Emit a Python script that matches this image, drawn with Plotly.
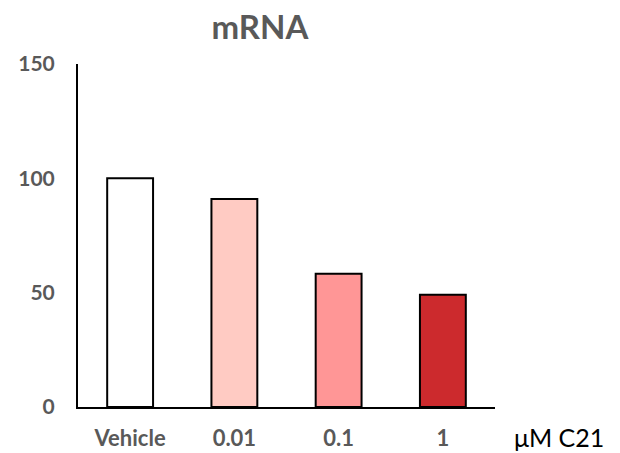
import plotly.graph_objects as go

categories = ["Vehicle", "0.01", "0.1", "1"]
values = [100, 91, 58.3, 49.1]
bar_colors = ["#FFFFFF", "#FFCBC3", "#FF9696", "#CC2A2D"]
y_ticks = [0, 50, 100, 150]

fig = go.Figure()
fig.add_trace(go.Bar(
    x=categories, y=values,
    marker=dict(color=bar_colors, line=dict(color="black", width=2)),
    width=0.44,
))

gray = "#595959"
fam = "Lato, Open Sans, sans-serif"
fig.update_layout(
    width=620, height=453,
    margin=dict(l=78, r=125, t=64, b=46),
    plot_bgcolor="white", paper_bgcolor="white",
    showlegend=False,
    title=dict(text="<b>mRNA</b>", x=260/620, xanchor="center", y=1-27/453, yanchor="middle",
               font=dict(family=fam, size=33, color=gray)),
    font=dict(family=fam),
)
fig.update_xaxes(
    range=[-0.5, 3.5], showline=True, linecolor="black", linewidth=2,
    ticks="", tickfont=dict(size=22, color=gray, weight="bold"),
    ticklabelstandoff=11, showgrid=False, zeroline=False, automargin=False,
)
fig.update_yaxes(
    range=[0, 150], tickvals=y_ticks, showline=True, linecolor="black", linewidth=2,
    ticks="", tickfont=dict(size=21, color=gray, weight="bold"),
    ticklabelstandoff=17, showgrid=False, zeroline=False, automargin=False,
)
fig.add_annotation(text="μM C21", xref="paper", yref="paper", x=(513-78)/417, y=-30/343,
                   xanchor="left", yanchor="middle", showarrow=False, borderpad=0,
                   font=dict(size=25, color="black", family=fam))
fig.write_html("out.html", config={"displayModeBar": False},
               post_script="document.body.style.margin='0';")
